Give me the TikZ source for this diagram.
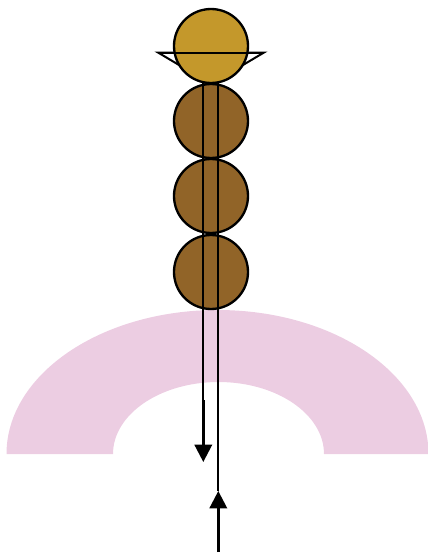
\documentclass[tikz,border=0pt]{standalone}
\usetikzlibrary{arrows.meta}
\definecolor{gold}{HTML}{C4982B}
\definecolor{brownball}{HTML}{916428}
\definecolor{pinkband}{HTML}{ECCDE2}
\tikzset{
  ball/.style={circle,draw=black,line width=1.75pt,minimum size=55.5pt,inner sep=0pt},
  wire/.style={draw=black,line width=1.6pt},
  strand/.style={draw=black,line width=1.9pt},
  cone/.style={draw=black,line width=1.5pt,line join=miter},
  head/.style={-{Triangle[length=13pt,width=13pt]}}
}
\begin{document}
\begin{tikzpicture}[x=0.75pt,y=-0.75pt]
\useasboundingbox (0,0) rectangle (428,554);
\fill[pinkband] (6.5,454) arc[start angle=180,end angle=360,x radius=211,y radius=144]
  -- (324,454) arc[start angle=0,end angle=-180,x radius=105.5,y radius=72] -- cycle;
\coordinate (tl) at (158,52.5);
\coordinate (tr) at (264,52.5);
\coordinate (ta) at (211,84);
\draw[cone] (tl) -- (tr) -- (ta) -- cycle;
\fill[brownball!80!gray] (203,78) rectangle (218,86);
\node[ball,fill=gold] (b0) at (211,46) {};
\node[ball,fill=brownball] (b1) at (211,121) {};
\node[ball,fill=brownball] (b2) at (211,196) {};
\node[ball,fill=brownball] (b3) at (211,272) {};
\draw[cone] (tl) -- (tr);
\coordinate (ltop) at (203.3,83);
\coordinate (lmid) at (203.3,400);
\coordinate (lend) at (203.3,462);
\coordinate (rtop) at (218.3,83);
\coordinate (rend) at (218.3,552);
\coordinate (rtip) at (218.3,491);
\draw[wire] (ltop) -- (lmid);
\draw[strand,head] (lmid) -- (lend);
\draw[wire] (rtop) -- (rtip);
\draw[strand,head] (rend) -- (rtip);
\end{tikzpicture}
\end{document}
